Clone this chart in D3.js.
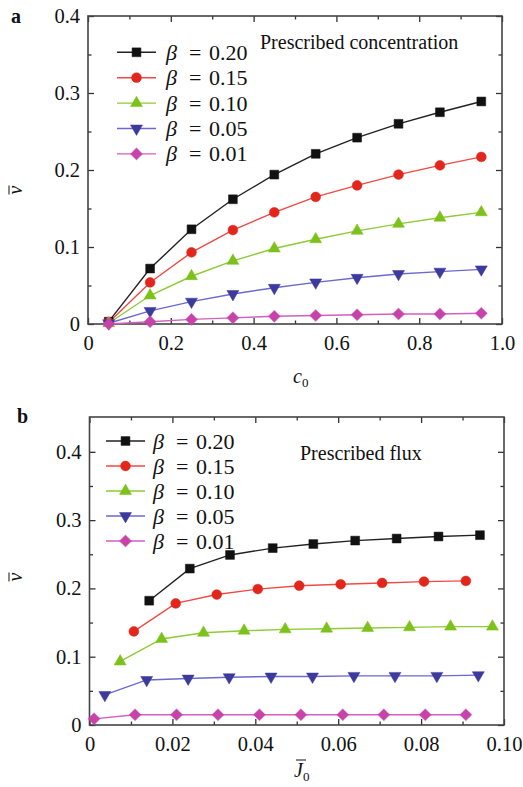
<!DOCTYPE html>
<html>
<head>
<meta charset="utf-8">
<script src="https://cdn.jsdelivr.net/npm/d3@7"></script>
<style>
  body { margin: 0; background: #fff; }
  svg, svg text, svg tspan { font-family: "Liberation Serif", "Times New Roman", Times, serif !important; }
  svg text { fill: #111; }
</style>
</head>
<body>
<div class="canvas"></div>
<script>
// ---- data ----
const betas = ['0.20', '0.15', '0.10', '0.05', '0.01'];
const colors = ['#111111', '#e2261c', '#7cc21b', '#3c3a9c', '#c843a9'];
const lineColors = ['#222222', '#f04a44', '#8ecb34', '#6b69cf', '#d35fc0'];
const shapes = ['square', 'circle', 'triangle', 'triangleDown', 'diamond'];

// panel a: prescribed concentration
const c0 = [0.05, 0.15, 0.25, 0.35, 0.45, 0.55, 0.65, 0.75, 0.85, 0.95];
const nuA = [
  [0.003, 0.072, 0.123, 0.162, 0.194, 0.221, 0.242, 0.260, 0.275, 0.289],
  [0.002, 0.054, 0.093, 0.122, 0.145, 0.165, 0.180, 0.194, 0.206, 0.217],
  [0.001, 0.037, 0.062, 0.082, 0.098, 0.110, 0.121, 0.130, 0.138, 0.145],
  [0.001, 0.017, 0.029, 0.039, 0.047, 0.054, 0.060, 0.065, 0.068, 0.071],
  [0.000, 0.003, 0.006, 0.008, 0.010, 0.011, 0.012, 0.013, 0.013, 0.014]
];

// panel b: prescribed flux (each curve has its own J0 values)
const jB = [
  [0.0144, 0.0242, 0.0339, 0.0442, 0.0540, 0.0641, 0.0741, 0.0842, 0.0942],
  [0.0107, 0.0208, 0.0307, 0.0406, 0.0506, 0.0606, 0.0706, 0.0807, 0.0908],
  [0.0074, 0.0174, 0.0275, 0.0373, 0.0472, 0.0572, 0.0671, 0.0772, 0.0871, 0.0972],
  [0.0037, 0.0138, 0.0238, 0.0337, 0.0438, 0.0538, 0.0638, 0.0737, 0.0838, 0.0938],
  [0.0011, 0.0110, 0.0210, 0.0310, 0.0410, 0.0510, 0.0611, 0.0710, 0.0810, 0.0908]
];
const nuB = [
  [0.182, 0.229, 0.249, 0.259, 0.265, 0.270, 0.273, 0.276, 0.278],
  [0.137, 0.178, 0.191, 0.199, 0.204, 0.206, 0.208, 0.210, 0.211],
  [0.093, 0.126, 0.135, 0.138, 0.140, 0.141, 0.142, 0.143, 0.144, 0.144],
  [0.044, 0.066, 0.068, 0.070, 0.071, 0.071, 0.072, 0.072, 0.072, 0.073],
  [0.009, 0.015, 0.015, 0.015, 0.015, 0.015, 0.015, 0.015, 0.015, 0.015]
];

const xTicksA = [0, 0.2, 0.4, 0.6, 0.8, 1.0];
const xMinorA = [0.1, 0.3, 0.5, 0.7, 0.9];
const xTicksB = [0, 0.02, 0.04, 0.06, 0.08, 0.10];
const xMinorB = [0.01, 0.03, 0.05, 0.07, 0.09];
const yTicks = [0, 0.1, 0.2, 0.3, 0.4];
const yMinorA = [0.05, 0.15, 0.25, 0.35];
const yMinorB = [0.05, 0.15, 0.25, 0.35];

const svg = d3.select('.canvas')
    .append('svg')
    .attr('width', 523)
    .attr('height', 787)
    .attr('font-family', '"Liberation Serif", serif');

const symbolPath = (shape) => {
    const sym = {
        square: d3.symbol(d3.symbolSquare, 78),
        circle: d3.symbol(d3.symbolCircle, 76),
        triangle: d3.symbol(d3.symbolTriangle, 62),
        triangleDown: d3.symbol(d3.symbolTriangle, 62),
        diamond: d3.symbol(d3.symbolSquare, 68)
    };
    return sym[shape]();
};
const symbolRot = shape => shape === 'triangleDown' ? 180 : (shape === 'diamond' ? 45 : 0);

const drawMarker = (g, shape, i, cx, cy) => {
    g.append('path')
        .attr('d', symbolPath(shape))
        .attr('transform', `translate(${cx},${cy}) rotate(${symbolRot(shape)})`)
        .attr('fill', colors[i])
        .attr('stroke', colors[i])
        .attr('stroke-opacity', 0.5)
        .attr('stroke-width', 1);
};

const panel = (opts) => {
    const {left, right, top, bottom, xDomain, yDomain, xMajor, xMinor, yMinor, xFmt, xs, ys, legend, note, letter} = opts;
    const x = d3.scaleLinear().domain(xDomain).range([left, right]);
    const y = d3.scaleLinear().domain(yDomain).range([bottom, top]);
    const g = svg.append('g');

    // axes (ticks pointing inward)
    const tickStyle = sel => {
        sel.attr('font-family', null).attr('font-size', null);
        sel.select('.domain').remove();
        sel.selectAll('line').attr('stroke', '#333').attr('stroke-width', 1.3);
        sel.selectAll('text').style('font-size', '20.5px').attr('fill', '#111');
    };
    g.append('g').attr('transform', `translate(0,${bottom})`)
        .call(d3.axisBottom(x).tickValues(xMajor).tickSize(-6).tickPadding(11).tickFormat(xFmt))
        .call(tickStyle);
    g.append('g').attr('transform', `translate(0,${bottom})`)
        .call(d3.axisBottom(x).tickValues(xMinor).tickSize(-3.5).tickFormat(''))
        .call(tickStyle);
    g.append('g').attr('transform', `translate(0,${top})`)
        .call(d3.axisTop(x).tickValues(xMajor).tickSize(-6).tickFormat(''))
        .call(tickStyle);
    g.append('g').attr('transform', `translate(0,${top})`)
        .call(d3.axisTop(x).tickValues(xMinor).tickSize(-3.5).tickFormat(''))
        .call(tickStyle);
    g.append('g').attr('transform', `translate(${left},0)`)
        .call(d3.axisLeft(y).tickValues(yTicks).tickSize(-6).tickPadding(8)
            .tickFormat(d => d === 0 ? '0' : d3.format('.1f')(d)))
        .call(tickStyle);
    g.append('g').attr('transform', `translate(${left},0)`)
        .call(d3.axisLeft(y).tickValues(yMinor).tickSize(-3.5).tickFormat(''))
        .call(tickStyle);
    g.append('g').attr('transform', `translate(${right},0)`)
        .call(d3.axisRight(y).tickValues(yTicks).tickSize(-6).tickFormat(''))
        .call(tickStyle);
    g.append('g').attr('transform', `translate(${right},0)`)
        .call(d3.axisRight(y).tickValues(yMinor).tickSize(-3.5).tickFormat(''))
        .call(tickStyle);

    g.append('rect')
        .attr('x', left).attr('y', top)
        .attr('width', right - left).attr('height', bottom - top)
        .attr('fill', 'none').attr('stroke', '#444').attr('stroke-width', 1.6);

    // series
    const line = d3.line().x(d => x(d[0])).y(d => y(d[1]));
    ys.forEach((vals, i) => {
        const xv = Array.isArray(xs[0]) ? xs[i] : xs;
        const pts = vals.map((v, k) => [xv[k], v]);
        g.append('path').datum(pts)
            .attr('d', line)
            .attr('fill', 'none')
            .attr('stroke', lineColors[i])
            .attr('stroke-width', 1.4);
    });
    ys.forEach((vals, i) => {
        const xv = Array.isArray(xs[0]) ? xs[i] : xs;
        vals.forEach((v, k) => drawMarker(g, shapes[i], i, x(xv[k]), y(v)));
    });

    // legend: beta, equals sign and value placed separately (TeX-like spacing)
    betas.forEach((b, i) => {
        const ly = legend.y0 + i * legend.dy;
        g.append('line')
            .attr('x1', legend.x1).attr('x2', legend.x2)
            .attr('y1', ly).attr('y2', ly)
            .attr('stroke', lineColors[i]).attr('stroke-width', 1.4);
        drawMarker(g, shapes[i], i, (legend.x1 + legend.x2) / 2, ly);
        g.append('text').attr('x', legend.tx).attr('y', ly + 7.5)
            .style('font-size', '22px').style('font-style', 'italic').text('β');
        g.append('text').attr('x', legend.tx + 23).attr('y', ly + 7.5)
            .style('font-size', '22px').text('=');
        g.append('text').attr('x', legend.tx + 43).attr('y', ly + 7.5)
            .style('font-size', '22px').text(b);
    });

    g.append('text').attr('x', note.x).attr('y', note.y)
        .style('font-size', '20px').text(note.text);

    g.append('text').attr('x', letter.x).attr('y', letter.y)
        .style('font-size', '20px').style('font-weight', 'bold').text(letter.text);

    // y label: nu-bar rotated
    const yl = g.append('g').attr('transform', `translate(${opts.yLabel.x},${opts.yLabel.y}) rotate(-90)`);
    yl.append('text').attr('text-anchor', 'middle').attr('y', 0)
        .style('font-size', '20px').style('font-style', 'italic').text('v');
    yl.append('line').attr('x1', -4.5).attr('x2', 4.5).attr('y1', -13).attr('y2', -13)
        .attr('stroke', '#111').attr('stroke-width', 1);

    return {g, x, y};
};

// panel a
const pa = panel({
    left: 88, right: 502, top: 16, bottom: 324,
    xDomain: [0, 1], yDomain: [0, 0.4],
    xMajor: xTicksA, xMinor: xMinorA, yMinor: yMinorA,
    xFmt: d => d === 0 ? '0' : d3.format('.1f')(d),
    xs: c0, ys: nuA,
    legend: {x1: 117, x2: 156, tx: 166, y0: 52.3, dy: 25.4},
    note: {x: 260, y: 49, text: 'Prescribed concentration'},
    letter: {x: 11, y: 23, text: 'a'},
    yLabel: {x: 22, y: 190}
});
pa.g.append('text').attr('x', 293).attr('y', 383)
    .style('font-size', '20px').style('font-style', 'italic').text('c');
pa.g.append('text').attr('x', 302).attr('y', 387)
    .style('font-size', '13px').text('0');

// panel b
const pb = panel({
    left: 89.5, right: 504, top: 417, bottom: 725,
    xDomain: [0, 0.1], yDomain: [0, 0.451],
    xMajor: xTicksB, xMinor: xMinorB, yMinor: yMinorB,
    xFmt: d => d === 0 ? '0' : d3.format('.2f')(d),
    xs: jB, ys: nuB,
    legend: {x1: 106, x2: 145, tx: 153, y0: 441, dy: 25},
    note: {x: 300, y: 460, text: 'Prescribed flux'},
    letter: {x: 17, y: 423, text: 'b'},
    yLabel: {x: 22, y: 577}
});
pb.g.append('text').attr('x', 294).attr('y', 777)
    .style('font-size', '20px').style('font-style', 'italic').text('J');
pb.g.append('line').attr('x1', 296).attr('x2', 306).attr('y1', 760).attr('y2', 760)
    .attr('stroke', '#111').attr('stroke-width', 1);
pb.g.append('text').attr('x', 303).attr('y', 781)
    .style('font-size', '13px').text('0');
</script>
</body>
</html>
